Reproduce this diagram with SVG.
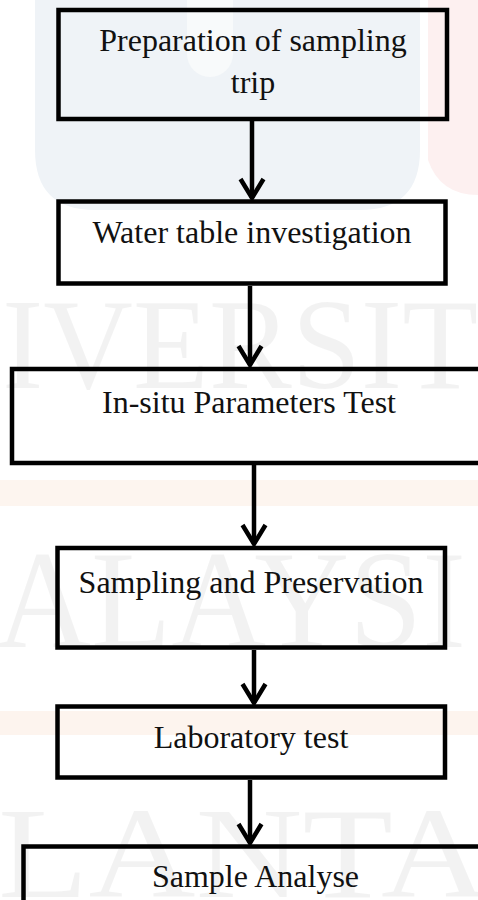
<svg xmlns="http://www.w3.org/2000/svg" width="478" height="900" viewBox="0 0 478 900">
  <style>
    .box { fill: none; stroke: #000; stroke-width: 4.5; stroke-linejoin: miter; }
    .lbl { font-family: "Liberation Serif", "Times New Roman", serif; font-size: 32px; fill: #111; text-anchor: middle; }
    .wm { font-family: "Liberation Serif", "Times New Roman", serif; fill: #000; fill-opacity: 0.05; }
    .flow { fill: none; stroke: #000; stroke-width: 4.5; marker-end: url(#chev); }
  </style>
  <defs>
    <marker id="chev" markerUnits="userSpaceOnUse" orient="auto" refX="0" refY="0" markerWidth="40" markerHeight="40" overflow="visible">
      <path d="M-19,-11.5 L0,0 L-19,11.5" fill="none" stroke="#000" stroke-width="4.5" stroke-linejoin="miter"/>
    </marker>
  </defs>

  <!-- page background with faint emblem tints -->
  <rect x="0" y="0" width="478" height="900" fill="#ffffff"/>
  <g id="backdrop">
    <path d="M35,0 H420 V150 Q420,210 360,210 H95 Q35,210 35,150 Z" fill="#eff3f7"/>
    <rect x="187" y="-30" width="46" height="107" rx="23" fill="#f8fafb"/>
    <path d="M428,0 H478 V195 Q440,195 428,160 Z" fill="#fdf0f0"/>
    <rect x="0" y="480" width="478" height="26" fill="#fdf5ef"/>
    <rect x="0" y="711" width="478" height="24" fill="#fdf4ee"/>
    <text class="wm" x="2" y="388" font-size="130" textLength="476" lengthAdjust="spacingAndGlyphs">IVERSIT</text>
    <text class="wm" x="-4" y="647" font-size="140" textLength="470" lengthAdjust="spacingAndGlyphs">ALAYSI</text>
    <text class="wm" x="-2" y="897" font-size="130" textLength="490" lengthAdjust="spacingAndGlyphs">LANTA</text>
  </g>

  <g id="connectors">
    <path class="flow" d="M252,121 V198"/>
    <path class="flow" d="M250,286 V365"/>
    <path class="flow" d="M254,465 V544"/>
    <path class="flow" d="M254,650 V703"/>
    <path class="flow" d="M250,780 V843"/>
  </g>

  <g id="prep">
    <rect class="box" x="58.5" y="10" width="388.5" height="109"/>
    <text class="lbl" x="253" y="51">Preparation of sampling</text>
    <text class="lbl" x="253" y="93">trip</text>
  </g>
  <g id="water-table">
    <rect class="box" x="58.5" y="201.5" width="387" height="82"/>
    <text class="lbl" x="252" y="243">Water table investigation</text>
  </g>
  <g id="insitu">
    <rect class="box" x="12" y="369" width="480" height="94"/>
    <text class="lbl" x="249" y="413">In-situ Parameters Test</text>
  </g>
  <g id="sampling">
    <rect class="box" x="57.5" y="548" width="387.5" height="99.5"/>
    <text class="lbl" x="251" y="593">Sampling and Preservation</text>
  </g>
  <g id="lab">
    <rect class="box" x="57.5" y="706.5" width="387.5" height="71"/>
    <text class="lbl" x="251" y="748">Laboratory test</text>
  </g>
  <g id="analyse">
    <rect class="box" x="23.5" y="846.5" width="470" height="80"/>
    <text class="lbl" x="255.5" y="887">Sample Analyse</text>
  </g>
</svg>
